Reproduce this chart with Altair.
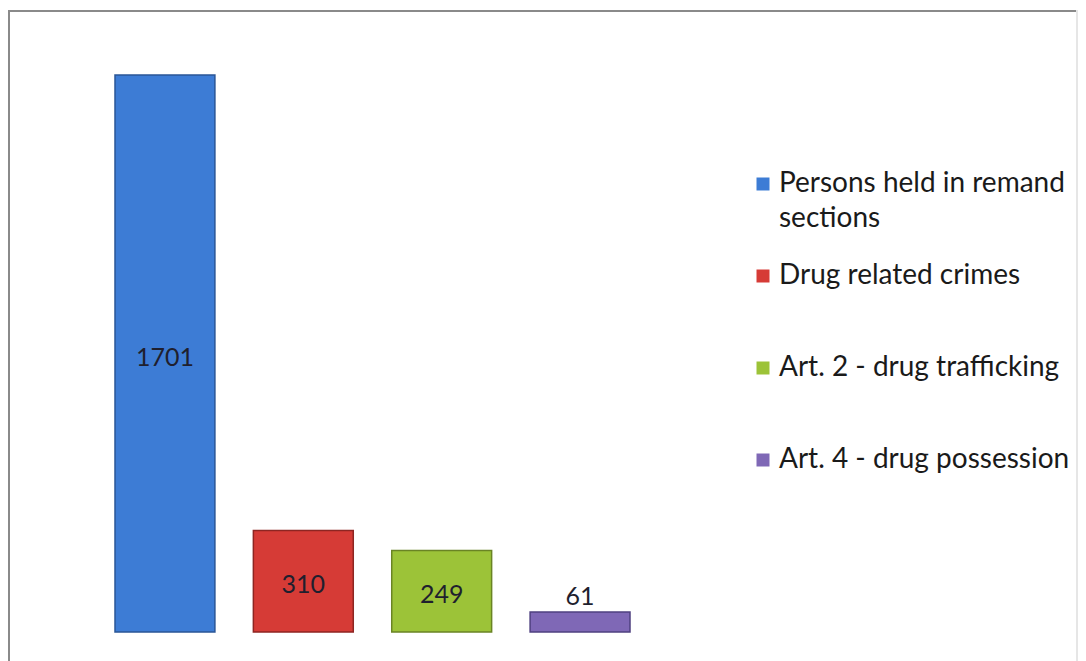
import altair as alt
import pandas as pd

categories = ["Persons held in remand sections", "Drug related crimes",
              "Art. 2 - drug trafficking", "Art. 4 - drug possession"]
values = [1701, 310, 249, 61]
colors = ["#3d7cd5", "#d63b36", "#9cc338", "#7f68b6"]
strokes = ["#2a5596", "#8e2522", "#6a8424", "#4f4080"]

df = pd.DataFrame({"category": categories, "value": values, "stroke": strokes})

W, H = 1070, 660

xenc = alt.X("category:N", sort=categories, axis=None,
             scale=alt.Scale(range=[107, 622], paddingInner=0.278, paddingOuter=0))
yscale = alt.Scale(domain=[0, 1701], range=[622, 65])

legend = alt.Legend(
    title=None, orient="none", legendX=741, legendY=160,
    labelFont="Lato", labelFontSize=28, labelColor="#1a1a1a",
    symbolType="square", symbolSize=169, symbolStrokeWidth=0,
    labelOffset=2, rowPadding=29, labelLimit=400, gridAlign="all",
    labelExpr="datum.label == 'Persons held in remand sections' ? ['Persons held in remand', 'sections'] : datum.label",
)

base = alt.Chart(df)

bars = base.mark_bar(strokeWidth=1.5).encode(
    x=xenc,
    y=alt.Y("value:Q", axis=None, scale=yscale),
    color=alt.Color("category:N", sort=categories,
                    scale=alt.Scale(domain=categories, range=colors), legend=legend),
    stroke=alt.Stroke("stroke:N", scale=None),
)

inside = base.transform_filter("datum.value >= 100").transform_calculate(
    mid="datum.value / 2"
).mark_text(font="Lato", fontSize=25, color="#1f1f2e", baseline="middle", dy=4).encode(
    x=xenc,
    y=alt.Y("mid:Q", axis=None, scale=yscale),
    text=alt.Text("value:Q"),
)

outside = base.transform_filter("datum.value < 100").mark_text(
    font="Lato", fontSize=25, color="#1f1f2e", baseline="bottom", dy=-2
).encode(
    x=xenc,
    y=alt.Y("value:Q", axis=None, scale=yscale),
    text=alt.Text("value:Q"),
)

top_rule = alt.Chart(df).mark_rule(color="#8a8a8a", strokeWidth=2).encode(
    x=alt.value(0), x2=alt.value(W), y=alt.value(1)
)
left_rule = alt.Chart(df).mark_rule(color="#8a8a8a", strokeWidth=2).encode(
    x=alt.value(1), y=alt.value(0), y2=alt.value(H)
)
right_rule = alt.Chart(df).mark_rule(color="#e6e6e6", strokeWidth=2).encode(
    x=alt.value(W - 1), y=alt.value(0), y2=alt.value(H)
)

chart = alt.layer(bars, inside, outside, top_rule, left_rule, right_rule).properties(
    width=W, height=H,
    padding={"left": 0, "top": 2, "right": 0, "bottom": 0},
    autosize=alt.AutoSizeParams(type="none"),
    background="white",
).configure(
    view={"stroke": None},
    style={"guide-label": {"lineHeight": 35}},
)

chart.save("out.html", embed_options={"renderer": "svg", "actions": False})
